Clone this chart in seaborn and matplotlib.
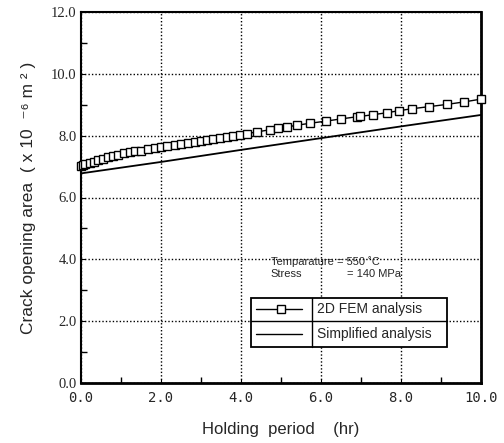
import matplotlib
matplotlib.use('Agg')
import matplotlib.pyplot as plt
import seaborn as sns
import pandas as pd
from matplotlib.patches import Rectangle
from matplotlib.ticker import MultipleLocator

# Data
fem_time = [0.0, 0.05, 0.11, 0.22, 0.32, 0.42, 0.55, 0.67, 0.80, 0.92, 1.07, 1.22, 1.36,
            1.51, 1.67, 1.84, 2.01, 2.16, 2.34, 2.51, 2.68, 2.84, 3.01, 3.16, 3.31, 3.48,
            3.64, 3.81, 3.97, 4.16, 4.39, 4.72, 4.93, 5.14, 5.41, 5.72, 6.12, 6.49, 6.89,
            6.97, 7.31, 7.64, 7.96, 8.27, 8.71, 9.14, 9.57, 9.99]
fem_area = [7.03, 7.05, 7.08, 7.12, 7.16, 7.20, 7.25, 7.30, 7.35, 7.39, 7.43, 7.46, 7.49,
            7.52, 7.56, 7.60, 7.64, 7.67, 7.71, 7.74, 7.77, 7.80, 7.82, 7.85, 7.88, 7.92,
            7.96, 7.99, 8.03, 8.07, 8.12, 8.19, 8.24, 8.28, 8.34, 8.40, 8.47, 8.54, 8.61,
            8.62, 8.68, 8.74, 8.81, 8.87, 8.94, 9.01, 9.09, 9.18]
simple_time = [0.0, 2.0, 4.0, 6.0, 8.0, 10.0]
simple_area = [6.78, 7.15, 7.54, 7.92, 8.30, 8.67]

df_fem = pd.DataFrame({'t': fem_time, 'a': fem_area})
df_simple = pd.DataFrame({'t': simple_time, 'a': simple_area})

sns.set_style('ticks')
plt.rcParams['font.family'] = ['Liberation Sans', 'DejaVu Sans']

fig = plt.figure(figsize=(5.04, 4.43), dpi=100)
ax = fig.add_axes([81 / 504, 60 / 443, 400 / 504, 371 / 443])

sns.lineplot(data=df_simple, x='t', y='a', ax=ax, color='black', linewidth=1.3)
sns.lineplot(data=df_fem, x='t', y='a', ax=ax, color='black', linewidth=1.0,
             marker='s', markersize=6, markerfacecolor='white',
             markeredgecolor='black', markeredgewidth=1.0, clip_on=False, zorder=5)

ax.set_xlim(0, 10)
ax.set_ylim(0, 12)
ax.xaxis.set_major_locator(MultipleLocator(2))
ax.yaxis.set_major_locator(MultipleLocator(2))
ax.xaxis.set_minor_locator(MultipleLocator(1))
ax.yaxis.set_minor_locator(MultipleLocator(1))
ax.grid(True, which='major', color='black', linestyle=(0, (1, 1.5)), linewidth=1.0)
ax.tick_params(which='both', direction='in', color='black')
ax.tick_params(which='major', length=3)
ax.tick_params(which='minor', length=4, width=1)
ax.tick_params(axis='y', pad=3)
ax.tick_params(axis='x', pad=6)

ax.set_xticklabels([f'{v:.1f}' for v in ax.get_xticks()], family='DejaVu Sans Mono', fontsize=10)
ax.set_yticklabels([f'{v:.1f}' for v in ax.get_yticks()], family='Liberation Serif', fontsize=10.5)

for side, lw in [('left', 1.5), ('bottom', 2.0), ('right', 2.0), ('top', 1.5)]:
    ax.spines[side].set_visible(True)
    ax.spines[side].set_linewidth(lw)
    ax.spines[side].set_color('black')

ax.set_xlabel('Holding  period    (hr)', fontsize=12, labelpad=12)
ax.set_ylabel('Crack opening area  ( x 10  \u207b\u2076 m \u00b2 )', fontsize=12.5, labelpad=11,
              family=['Liberation Sans', 'DejaVu Sans'])

# Condition note
ax.text(0.474, 0.327, 'Temparature = 550 \u02daC', transform=ax.transAxes, fontsize=8,
        va='center', ha='left', family=['Liberation Sans', 'DejaVu Sans'])
ax.text(0.474, 0.293, 'Stress', transform=ax.transAxes, fontsize=8, va='center', ha='left')
ax.text(0.664, 0.293, '= 140 MPa', transform=ax.transAxes, fontsize=8, va='center', ha='left')

# Table-style legend
lx0, lx1, ly0, ly1 = 0.424, 0.914, 0.098, 0.230
ymid, xdiv = 0.167, 0.577
ax.add_patch(Rectangle((lx0, ly0), lx1 - lx0, ly1 - ly0, transform=ax.transAxes,
                       facecolor='white', edgecolor='black', linewidth=1.3, zorder=6))
ax.plot([lx0, lx1], [ymid, ymid], transform=ax.transAxes, color='black', lw=1.0, zorder=7)
ax.plot([xdiv, xdiv], [ly0, ly1], transform=ax.transAxes, color='black', lw=1.0, zorder=7)
ax.plot([0.4375, 0.552], [0.199, 0.199], transform=ax.transAxes, color='black', lw=1.0, zorder=7)
ax.plot([0.499], [0.199], transform=ax.transAxes, marker='s', markersize=6,
        markerfacecolor='white', markeredgecolor='black', markeredgewidth=1.0, zorder=8)
ax.plot([0.4375, 0.552], [0.133, 0.133], transform=ax.transAxes, color='black', lw=1.0, zorder=7)
ax.text(0.591, 0.199, '2D FEM analysis', transform=ax.transAxes, fontsize=10,
        va='center', ha='left', zorder=8)
ax.text(0.591, 0.133, 'Simplified analysis', transform=ax.transAxes, fontsize=10,
        va='center', ha='left', zorder=8)

fig.savefig('out.png', dpi=100)
